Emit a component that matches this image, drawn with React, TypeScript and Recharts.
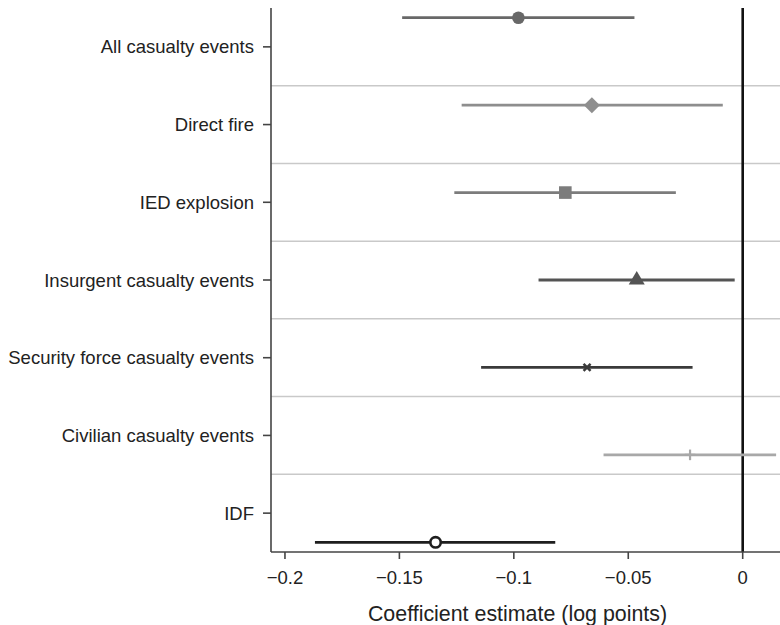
import React from 'react';
import { ScatterChart, Scatter, XAxis, YAxis, ErrorBar, ReferenceLine, Label } from 'recharts';

// rows, top to bottom
const rows = [
  'All casualty events',
  'Direct fire',
  'IED explosion',
  'Insurgent casualty events',
  'Security force casualty events',
  'Civilian casualty events',
  'IDF',
];
const estimates = [-0.098, -0.0659, -0.0775, -0.0463, -0.068, -0.023, -0.1342];
const ciLow = [-0.1488, -0.1228, -0.126, -0.0892, -0.1143, -0.0608, -0.1869];
const ciHigh = [-0.0473, -0.0087, -0.0292, -0.0035, -0.0219, 0.0146, -0.0819];
// vertical slot of each estimate on the row scale (0 = top, 7 = bottom)
const markerPos = [0.125, 1.25, 2.375, 3.5, 4.625, 5.75, 6.875];
const labelPos = [0.5, 1.5, 2.5, 3.5, 4.5, 5.5, 6.5];
const separators = [1, 2, 3, 4, 5, 6];
const xTicks = [-0.2, -0.15, -0.1, -0.05, 0];

const styles = [
  { kind: 'circle', color: '#686868' },
  { kind: 'diamond', color: '#8e8e8e' },
  { kind: 'square', color: '#7c7c7c' },
  { kind: 'triangle', color: '#545454' },
  { kind: 'x', color: '#3a3a3a' },
  { kind: 'plus', color: '#a8a8a8' },
  { kind: 'hollow', color: '#1e1e1e' },
];

const FONT = '"Liberation Sans", Arial, Helvetica, sans-serif';

function Marker(props: any) {
  const { cx, cy, kind, color } = props;
  if (cx == null || cy == null) return null;
  switch (kind) {
    case 'circle':
      return <circle cx={cx} cy={cy} r={6.3} fill={color} />;
    case 'diamond':
      return <polygon points={`${cx},${cy - 8} ${cx + 8},${cy} ${cx},${cy + 8} ${cx - 8},${cy}`} fill={color} />;
    case 'square':
      return <rect x={cx - 6.3} y={cy - 6.3} width={12.6} height={12.6} fill={color} />;
    case 'triangle':
      return <polygon points={`${cx},${cy - 9} ${cx + 8},${cy + 4.5} ${cx - 8},${cy + 4.5}`} fill={color} />;
    case 'x':
      return (
        <g stroke={color} strokeWidth={2.4}>
          <line x1={cx - 3.5} y1={cy - 3.5} x2={cx + 3.5} y2={cy + 3.5} />
          <line x1={cx - 3.5} y1={cy + 3.5} x2={cx + 3.5} y2={cy - 3.5} />
        </g>
      );
    case 'plus':
      return (
        <g stroke={color} strokeWidth={2.2}>
          <line x1={cx} y1={cy - 5.3} x2={cx} y2={cy + 5.3} />
          <line x1={cx - 5.3} y1={cy} x2={cx + 5.3} y2={cy} />
        </g>
      );
    default:
      return <circle cx={cx} cy={cy} r={5.2} fill="#fff" stroke={color} strokeWidth={2.6} />;
  }
}

export default function App() {
  const series = rows.map((name, i) => ({
    name,
    data: [{ x: estimates[i], y: markerPos[i], err: [estimates[i] - ciLow[i], ciHigh[i] - estimates[i]] }],
  }));

  return (
    <div style={{ position: 'absolute', left: 0, top: 0, background: '#fff', fontFamily: FONT }}>
      <ScatterChart width={780} height={625} margin={{ top: 8, right: 0, bottom: 0, left: 0 }}>
        <XAxis
          type="number"
          dataKey="x"
          domain={[-0.2061, 0.0163]}
          allowDataOverflow
          ticks={xTicks}
          tickFormatter={(v: number) => (v < 0 ? '\u2212' + String(Math.abs(v)) : '0')}
          height={73}
          stroke="#444"
          strokeWidth={1.6}
          tickSize={7}
          tickMargin={12}
          tick={{ fill: '#222', fontSize: 18.5, fontFamily: FONT }}
        >
          <Label
            value="Coefficient estimate (log points)"
            position="insideBottom"
            offset={4}
            dx={-8}
            style={{ fill: '#222', fontSize: 21.4, fontFamily: FONT }}
          />
        </XAxis>
        <YAxis
          type="number"
          dataKey="y"
          domain={[0, 7]}
          reversed
          allowDataOverflow
          ticks={labelPos}
          tickFormatter={(v: number) => rows[labelPos.indexOf(v)] ?? ''}
          width={271}
          stroke="#444"
          strokeWidth={1.6}
          tickSize={8}
          tickMargin={9}
          tick={{ fill: '#222', fontSize: 18.5, fontFamily: FONT }}
        />
        {separators.map((s) => (
          <ReferenceLine key={s} y={s} stroke="#c9c9c9" strokeWidth={1.5} />
        ))}
        <ReferenceLine x={0} stroke="#111" strokeWidth={2.6} />
        {series.map((s, i) => (
          <Scatter
            key={s.name}
            name={s.name}
            data={s.data}
            isAnimationActive={false}
            shape={(p: any) => <Marker {...p} kind={styles[i].kind} color={styles[i].color} />}
          >
            <ErrorBar dataKey="err" direction="x" width={0} stroke={styles[i].color} strokeWidth={2.8} />
          </Scatter>
        ))}
      </ScatterChart>
    </div>
  );
}
